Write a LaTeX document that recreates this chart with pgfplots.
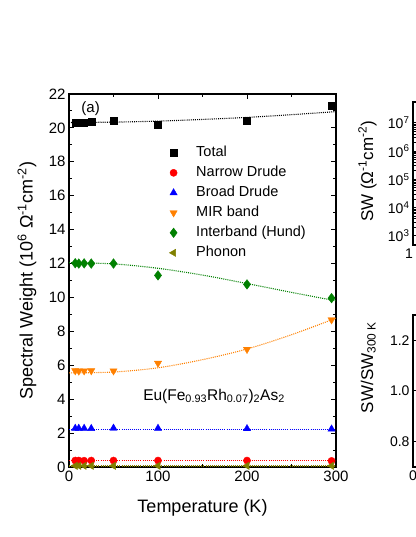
\documentclass[border=0pt]{standalone}
\usepackage{fontspec}
\setmainfont{Liberation Sans}
\usepackage{pgfplots}
\pgfplotsset{compat=1.18}

\definecolor{mirorange}{RGB}{255,128,0}
\definecolor{ibgreen}{RGB}{0,128,0}
\definecolor{phonolive}{RGB}{128,128,0}
\newcommand{\fs}[1]{\fontsize{#1}{#1}\selectfont}

\pgfplotsset{
  base/.style={
    scale only axis,
    anchor=south west,
    axis line style={line width=1.2pt},
    tick align=inside,
    major tick length=5pt, minor tick length=3pt,
    every tick/.style={black, line width=1pt},
    /pgf/number format/assume math mode=true,
    ticklabel style={font=\fs{15}},
  },
  fit/.style={dash pattern=on 1pt off 1.1pt, line width=1.1pt, forget plot},
}

\begin{document}
\begin{tikzpicture}
\useasboundingbox (0,0) rectangle (415pt,537pt);

% main panel
\begin{axis}[base,
  at={(69pt,70pt)}, width=267pt, height=373pt,
  xmin=0, xmax=300, ymin=0, ymax=22,
  xtick={0,100,200,300}, minor x tick num=1,
  ytick={0,2,...,22}, minor y tick num=1,
  xlabel={Temperature (K)},
  ylabel={Spectral Weight (10\textsuperscript{6} Ω\textsuperscript{-1}cm\textsuperscript{-2})},
  xlabel style={font=\fs{18}, at={(axis description cs:0.5,-0.11)}, anchor=center},
  ylabel style={font=\fs{18}, at={(axis description cs:-0.157,0.5)}, anchor=center},
  legend style={at={(axis description cs:0.364,0.875)}, anchor=north west,
    draw=none, fill=none, font=\fs{14.5}, row sep=0pt,
    nodes={text height=10.5pt, text depth=3.5pt, inner sep=3pt},
    /tikz/every odd column/.append style={column sep=16pt}},
  legend cell align=left,
]
\addplot[only marks, mark=square*, mark size=3.5pt, black]
  coordinates {(7,20.33) (11,20.33) (17,20.32) (25,20.34) (50,20.41) (100,20.16) (200,20.42) (295,21.30)};
\addlegendentry{Total}
\addplot[only marks, mark=*, mark size=3.6pt, red]
  coordinates {(7,0.38) (11,0.38) (17,0.37) (25,0.38) (50,0.38) (100,0.38) (200,0.38) (295,0.36)};
\addlegendentry{Narrow Drude}
\addplot[only marks, mark=triangle*, mark size=4.2pt, blue]
  coordinates {(7,2.28) (11,2.28) (17,2.28) (25,2.27) (50,2.29) (100,2.28) (200,2.26) (295,2.24)};
\addlegendentry{Broad Drude}
\addplot[only marks, mark=triangle*, mark size=4.2pt, mirorange, mark options={rotate=180}]
  coordinates {(7,5.68) (11,5.66) (17,5.67) (25,5.68) (50,5.67) (100,6.12) (200,6.94) (295,8.68)};
\addlegendentry{MIR band}
\addplot[only marks, mark=diamond*, mark size=4.8pt, ibgreen]
  coordinates {(7,12.02) (11,12.00) (17,12.01) (25,12.00) (50,12.00) (100,11.30) (200,10.77) (295,9.96)};
\addlegendentry{Interband (Hund)}
\addplot[only marks, mark=triangle*, mark size=4.2pt, phonolive, mark options={rotate=90}]
  coordinates {(7,0.07) (11,0.07) (17,0.07) (25,0.07) (50,0.07) (100,0.07) (200,0.07) (295,0.07)};
\addlegendentry{Phonon}

% fits
\addplot[fit, black, smooth] coordinates {(0,20.32) (50,20.34) (100,20.40) (150,20.50) (200,20.62) (250,20.78) (300,20.96)};
\addplot[fit, red] coordinates {(0,0.38) (300,0.38)};
\addplot[fit, blue] coordinates {(0,2.22) (300,2.22)};
\addplot[fit, mirorange, smooth] coordinates {(0,5.55) (50,5.60) (100,5.85) (150,6.33) (200,6.96) (250,7.80) (300,8.78)};
\addplot[fit, ibgreen, smooth] coordinates {(0,12.05) (50,11.98) (100,11.72) (150,11.32) (200,10.82) (250,10.30) (300,9.80)};
\addplot[fit, phonolive] coordinates {(0,0.06) (300,0.06)};

\node[anchor=west, font=\fs{15}] at (axis cs:10,21.12) {(a)};
\node[anchor=base, font=\fs{15.5}] at (axis cs:163,3.95)
  {Eu(Fe\textsubscript{0.93}Rh\textsubscript{0.07})\textsubscript{2}As\textsubscript{2}};
\end{axis}

% top right panel (cut off)
\begin{axis}[base,
  at={(413pt,292pt)}, width=200pt, height=143pt,
  xmode=log, ymode=log,
  xmin=1, xmax=100, ymin=480, ymax=5.5e7,
  xtick={1}, xticklabels={1},
  xticklabel style={xshift=-4pt},
  ytick={1e3,1e4,1e5,1e6,1e7},
  yticklabels={10\textsuperscript{3},10\textsuperscript{4},10\textsuperscript{5},10\textsuperscript{6},10\textsuperscript{7}},
  minor tick num=0, ticklabel style={font=\fs{14}},
]
\end{axis}

% bottom right panel (cut off)
\begin{axis}[base,
  at={(413pt,70pt)}, width=200pt, height=152pt,
  xmin=0, xmax=300, ymin=0.7, ymax=1.3,
  xtick={0}, xticklabels={0},
  ytick={0.8,1.0,1.2}, yticklabels={0.8,1.0,1.2},
  ticklabel style={font=\fs{14}},
]
\end{axis}

\node[rotate=90, anchor=base, font=\fs{17}] at (373pt,365.5pt)
  {SW (Ω\textsuperscript{-1}cm\textsuperscript{-2})};
\node[rotate=90, anchor=base, font=\fs{17}] at (373pt,169.5pt)
  {SW/SW\textsubscript{300 K}};
\end{tikzpicture}
\end{document}
